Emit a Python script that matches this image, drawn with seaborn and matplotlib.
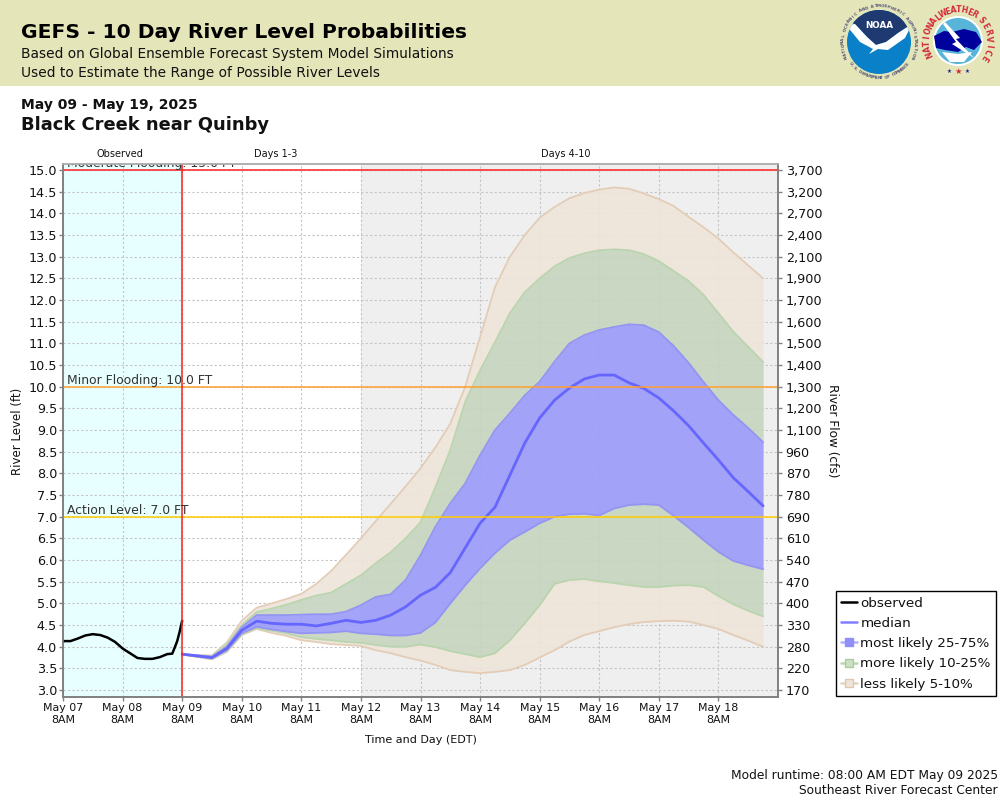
import numpy as np
import pandas as pd
import matplotlib
matplotlib.use("Agg")
import matplotlib.pyplot as plt
from matplotlib.lines import Line2D
from matplotlib.patches import Circle, Polygon, Rectangle
import seaborn as sns

obs_hours = [0, 3, 6, 9, 12, 15, 18, 21, 24, 27, 30, 33, 36, 39, 42, 44, 45, 46, 47, 48]
observed = [4.13, 4.13, 4.19, 4.26, 4.29, 4.27, 4.21, 4.11, 3.96, 3.85, 3.74, 3.72, 3.72, 3.76, 3.83, 3.84, 3.98, 4.13, 4.35, 4.6]

fcst_hours = [48, 60, 66, 72, 78, 84, 90, 96, 102, 108, 114, 120, 126, 132, 138, 144, 150, 156, 162,
              168, 174, 180, 186, 192, 198, 204, 210, 216, 222, 228, 234, 240, 246, 252, 258, 264, 270, 276, 282]
p95 = [3.82, 3.8, 4.1, 4.6, 4.9, 5.0, 5.1, 5.22, 5.45, 5.75, 6.12, 6.5, 6.9, 7.3, 7.7, 8.12, 8.6, 9.15, 10.0,
       11.15, 12.3, 13.0, 13.5, 13.9, 14.15, 14.35, 14.47, 14.55, 14.6, 14.57, 14.46, 14.33, 14.17, 13.92, 13.68, 13.42, 13.1, 12.8, 12.5]
p90 = [3.82, 3.78, 4.05, 4.5, 4.8, 4.88, 4.97, 5.08, 5.18, 5.25, 5.45, 5.65, 5.93, 6.18, 6.5, 6.87, 7.68, 8.54, 9.65,
       10.38, 11.03, 11.7, 12.18, 12.5, 12.78, 12.97, 13.08, 13.15, 13.17, 13.15, 13.06, 12.9, 12.67, 12.44, 12.12, 11.7, 11.27, 10.92, 10.57]
p75 = [3.82, 3.77, 4.0, 4.45, 4.73, 4.73, 4.73, 4.74, 4.75, 4.75, 4.81, 4.96, 5.15, 5.21, 5.54, 6.11, 6.77, 7.31, 7.77,
       8.42, 9.0, 9.39, 9.8, 10.12, 10.58, 11.0, 11.19, 11.31, 11.38, 11.44, 11.42, 11.26, 10.94, 10.55, 10.11, 9.69, 9.35, 9.05, 8.72]
median = [3.83, 3.75, 3.96, 4.38, 4.59, 4.54, 4.52, 4.52, 4.48, 4.54, 4.61, 4.56, 4.61, 4.73, 4.92, 5.19, 5.37, 5.71, 6.28,
          6.85, 7.22, 7.96, 8.7, 9.28, 9.69, 9.97, 10.18, 10.27, 10.27, 10.09, 9.96, 9.74, 9.44, 9.1, 8.7, 8.31, 7.9, 7.58, 7.25]
p25 = [3.82, 3.73, 3.92, 4.31, 4.46, 4.4, 4.35, 4.31, 4.32, 4.33, 4.36, 4.31, 4.29, 4.26, 4.26, 4.32, 4.56, 5.0, 5.42,
       5.81, 6.16, 6.46, 6.65, 6.85, 7.0, 7.06, 7.07, 7.03, 7.19, 7.27, 7.29, 7.27, 7.02, 6.75, 6.46, 6.19, 5.98, 5.88, 5.79]
p10 = [3.82, 3.72, 3.9, 4.28, 4.43, 4.37, 4.31, 4.22, 4.18, 4.15, 4.11, 4.09, 4.04, 4.0, 4.0, 4.05, 3.99, 3.9, 3.83,
       3.76, 3.85, 4.15, 4.54, 4.96, 5.45, 5.54, 5.56, 5.51, 5.47, 5.42, 5.38, 5.38, 5.41, 5.42, 5.38, 5.17, 4.98, 4.83, 4.7]
p5 = [3.82, 3.71, 3.88, 4.27, 4.41, 4.32, 4.25, 4.15, 4.11, 4.06, 4.04, 4.02, 3.92, 3.85, 3.76, 3.68, 3.58, 3.46, 3.42,
      3.39, 3.42, 3.46, 3.58, 3.75, 3.92, 4.12, 4.27, 4.36, 4.45, 4.52, 4.57, 4.59, 4.6, 4.58, 4.5, 4.41, 4.27, 4.14, 4.0]

day_labels = ["May 07", "May 08", "May 09", "May 10", "May 11", "May 12", "May 13", "May 14", "May 15", "May 16", "May 17", "May 18"]
level_ticks = [3.0, 3.5, 4.0, 4.5, 5.0, 5.5, 6.0, 6.5, 7.0, 7.5, 8.0, 8.5, 9.0, 9.5, 10.0, 10.5, 11.0, 11.5, 12.0, 12.5, 13.0, 13.5, 14.0, 14.5, 15.0]
flow_labels = ["170", "220", "280", "330", "400", "470", "540", "610", "690", "780", "870", "960", "1,100", "1,200", "1,300",
               "1,400", "1,500", "1,600", "1,700", "1,900", "2,100", "2,400", "2,700", "3,200", "3,700"]

start = pd.Timestamp("2025-05-07 08:00")
obs_df = pd.DataFrame({"time": start + pd.to_timedelta(obs_hours, unit="h"), "level": observed})
fc_time = start + pd.to_timedelta(fcst_hours, unit="h")
day_times = pd.date_range(start, periods=12, freq="D")

BLUE, GREEN, BEIGE = "#9C9CF9", "#C6D5C0", "#EEE5DA"
BLUE_E, GREEN_E, BEIGE_E = "#9494F2", "#BAD5AE", "#E3CDB6"

sns.set_theme(style="white")
plt.rcParams["font.family"] = ["DejaVu Sans"]
fig = plt.figure(figsize=(10, 8), dpi=100)


def add_ring_text(deco, text, cx, cy, r, a0, a1, color, size, clockwise=True):
    # one rotated letter at a time around a logo
    angles = np.linspace(a0, a1, len(text))
    for ch, a in zip(text, angles):
        rad = np.radians(a)
        rot = a - 90 if clockwise else a + 90
        deco.text(cx + r * np.cos(rad), cy - r * np.sin(rad), ch, color=color, fontsize=size, weight="bold",
                  rotation=rot, ha="center", va="center")


# banner, heading text and logos live on a full-figure pixel axes
deco = fig.add_axes([0, 0, 1, 1], zorder=0)
deco.set_xlim(0, 1000)
deco.set_ylim(800, 0)
deco.axis("off")
deco.add_patch(Rectangle((0, 0), 1000, 86, color="#E4E5B9", lw=0))
deco.text(21, 33, "GEFS - 10 Day River Level Probabilities", fontsize=14.55, weight="bold", color="black", va="center")
deco.text(21, 54, "Based on Global Ensemble Forecast System Model Simulations", fontsize=9.95, color="#111111", va="center")
deco.text(21, 73, "Used to Estimate the Range of Possible River Levels", fontsize=9.95, color="#111111", va="center")
deco.text(21, 105, "May 09 - May 19, 2025", fontsize=10, weight="bold", color="#111111", va="center")
deco.text(21, 125, "Black Creek near Quinby", fontsize=12.9, weight="bold", color="#111111", va="center")
deco.text(120, 154, "Observed", fontsize=7, color="#111111", ha="center", va="center")
deco.text(276, 154, "Days 1-3", fontsize=7, color="#111111", ha="center", va="center")
deco.text(566, 154, "Days 4-10", fontsize=7, color="#111111", ha="center", va="center")
deco.text(18, 431, "River Level (ft)", fontsize=8.5, rotation=90, color="#111111", ha="center", va="center")
deco.text(832, 431, "River Flow (cfs)", fontsize=8.7, rotation=270, color="#111111", ha="center", va="center")
deco.text(421, 740, "Time and Day (EDT)", fontsize=8, color="#111111", ha="center", va="center")
deco.text(998, 775, "Model runtime: 08:00 AM EDT May 09 2025", fontsize=8.8, color="#111111", ha="right", va="center")
deco.text(998, 791, "Southeast River Forecast Center", fontsize=8.8, color="#111111", ha="right", va="center")

# NOAA logo
disc = Circle((879, 42), 32, color="#0A80C8", lw=0)
deco.add_patch(disc)
navy = Polygon([(847, 8), (911, 8), (911, 24), (886, 42), (875, 45), (855, 24), (847, 20)], color="#1E3A70", lw=0)
deco.add_patch(navy)
navy.set_clip_path(disc)
bird = Polygon([(846, 25), (855, 24), (867, 37), (876, 45), (886, 42), (898, 33), (912, 24), (905, 38), (888, 50), (878, 49),
                (869, 54), (873, 49), (860, 42)], color="white", lw=0)
deco.add_patch(bird)
bird.set_clip_path(disc)
deco.text(879, 25, "NOAA", color="white", fontsize=6.3, weight="bold", ha="center", va="center")
add_ring_text(deco, "NATIONAL OCEANIC AND ATMOSPHERIC ADMINISTRATION", 879, 42, 36, 205, -25, "#555577", 2.9)
add_ring_text(deco, "U.S. DEPARTMENT OF COMMERCE", 879, 42, 36, 218, 322, "#555577", 2.9, clockwise=False)

# NWS logo
deco.add_patch(Circle((958, 41), 25, color="#FFFFFF", lw=0))
deco.add_patch(Circle((958, 41), 23, color="#58B4D8", lw=0))
deco.add_patch(Polygon([(934, 36), (944, 31), (952, 32), (964, 29), (976, 32), (982, 42), (974, 50), (966, 47), (958, 52),
                        (945, 50), (936, 48)], color="#00009C", lw=0))
deco.add_patch(Polygon([(945, 22), (960, 38), (956, 39), (974, 58), (952, 44), (956, 42), (943, 24)], color="white", lw=0))
deco.add_patch(Polygon([(942, 52), (958, 54), (972, 52), (964, 62), (950, 62)], color="white", lw=0))
add_ring_text(deco, "NATIONAL", 958, 41, 31, 205, 130, "#D22B3C", 5.6)
add_ring_text(deco, "WEATHER", 958, 41, 31, 118, 58, "#D22B3C", 5.6)
add_ring_text(deco, "SERVICE", 958, 41, 31, 42, -33, "#D22B3C", 5.6)
deco.text(958, 71, "★", color="#D22B3C", fontsize=6, ha="center", va="center")
deco.text(949, 71, "★", color="#20209C", fontsize=4, ha="center", va="center")
deco.text(967, 71, "★", color="#20209C", fontsize=4, ha="center", va="center")

# main chart, same pixel box as the reference
ax = fig.add_axes([63 / 1000, 103 / 800, 715 / 1000, 533 / 800], zorder=2)
ax.patch.set_alpha(0)
ax.set_xlim(start, start + pd.Timedelta(days=12))
ax.set_ylim(2.84, 15.14)

ax.axvspan(start, day_times[2], color="#E8FFFF", lw=0, zorder=0)
ax.axvspan(day_times[5], start + pd.Timedelta(days=12), color="#EFEFEF", lw=0, zorder=0)
ax.grid(True, color="#C4C4C4", linestyle=(0, (2, 2)), linewidth=0.8, zorder=1)
ax.set_axisbelow(True)

for low, high, col in [(p5, p10, BEIGE), (p90, p95, BEIGE), (p10, p25, GREEN), (p75, p90, GREEN), (p25, p75, BLUE)]:
    ax.fill_between(fc_time, low, high, color=col, alpha=0.92, lw=0, zorder=2)
for vals, col in [(p5, BEIGE_E), (p95, BEIGE_E), (p10, GREEN_E), (p90, GREEN_E), (p25, BLUE_E), (p75, BLUE_E)]:
    sns.lineplot(x=fc_time, y=vals, ax=ax, color=col, linewidth=1.3, zorder=3, legend=False)

sns.lineplot(x=fc_time, y=median, ax=ax, color="#6666FF", linewidth=2.0, zorder=4, legend=False)
sns.lineplot(data=obs_df, x="time", y="level", ax=ax, color="black", linewidth=1.8, zorder=4, legend=False)

ax.axhline(15, color="#FF2020", lw=1.1, zorder=5)
ax.axhline(10, color="#FFA030", lw=1.1, zorder=5)
ax.axhline(7, color="#FFCC00", lw=1.1, zorder=5)
ax.axvline(day_times[2], color="#FF2020", lw=1.1, zorder=5)
label_x = start + pd.Timedelta(hours=1.5)
for lvl, txt in [(15, "Moderate Flooding: 15.0 FT"), (10, "Minor Flooding: 10.0 FT"), (7, "Action Level: 7.0 FT")]:
    ax.text(label_x, lvl + 0.06, txt, fontsize=8.9, color="#333333", va="baseline", clip_on=True, zorder=6)

ax.set_xlabel("")
ax.set_ylabel("")
ax.set_yticks(level_ticks)
ax.set_yticklabels([f"{v:.1f}" for v in level_ticks], fontsize=9.2, color="#111111")
ax.set_xticks(day_times)
ax.set_xticklabels([d + "\n8AM" for d in day_labels], fontsize=7.9, color="#111111", linespacing=1.2)
ax.tick_params(axis="x", length=3, width=1, color="#808080", pad=1.5, bottom=True)
ax.tick_params(axis="y", length=3, width=1, color="#808080", pad=1.2, left=True)

ax2 = ax.twinx()
ax2.set_ylim(ax.get_ylim())
ax2.set_yticks(level_ticks)
ax2.set_yticklabels(flow_labels, fontsize=9.2, color="#111111")
ax2.tick_params(axis="y", length=3, width=1, color="#808080", pad=2.5, right=True)
ax2.grid(False)
ax2.patch.set_alpha(0)

for a in (ax, ax2):
    a.spines["left"].set_color("#808080")
    a.spines["bottom"].set_color("#808080")
    a.spines["right"].set_color("#808080")
    a.spines["top"].set_color("#B0B0B0")
    for s in a.spines.values():
        s.set_linewidth(1.2)

handles = [
    Line2D([], [], color="black", lw=1.8),
    Line2D([], [], color="#8080FF", lw=1.8),
    Line2D([], [], color="#B0B0FA", lw=1.8, marker="s", ms=6, mfc="#8F8FF7", mec="#8F8FF7"),
    Line2D([], [], color="#BCD8B0", lw=1.8, marker="s", ms=6, mfc="#CBE0C4", mec="#A9CC9C"),
    Line2D([], [], color="#E6D2BE", lw=1.8, marker="s", ms=6, mfc="#EEE5DA", mec="#E0C8B0"),
]
leg = fig.legend(handles, ["observed", "median", "most likely 25-75%", "more likely 10-25%", "less likely 5-10%"],
                 loc="lower left", bbox_to_anchor=(835.5 / 1000, 104 / 800), borderaxespad=0, fontsize=9.7, frameon=True,
                 fancybox=False, framealpha=1, edgecolor="black", handlelength=1.2, handletextpad=0.25, labelspacing=0.54,
                 borderpad=0.4)
leg.get_frame().set_linewidth(1.0)
for t in leg.get_texts():
    t.set_color("#111111")

fig.savefig("out.png", dpi=100)
